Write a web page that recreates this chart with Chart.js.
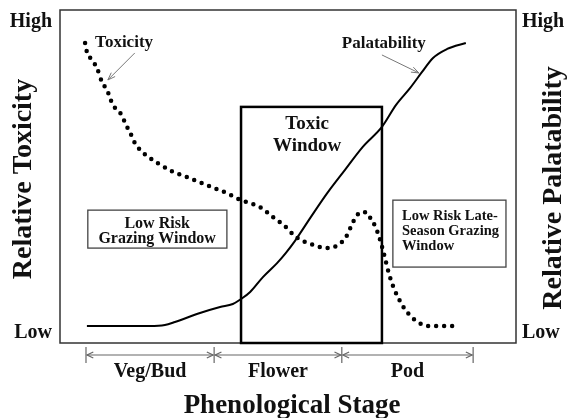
<!DOCTYPE html>
<html>
<head>
<meta charset="utf-8">
<title>Phenological Stage - Toxicity vs Palatability</title>
<script src="https://cdn.jsdelivr.net/npm/chart.js@4.4.1/dist/chart.umd.min.js"></script>
<style>
    html, body { margin: 0; padding: 0; background: #fff; }
    #chart { display: block; }
</style>
</head>
<body>
<canvas id="chart" width="568" height="418"></canvas>
<script>
// ============================================================
// DATA (x = position through the season 0-100, y = relative level 0-100)
// ============================================================
const palatabilityX = [5.9, 19.7, 23.0, 25.2, 30.7, 35.1, 37.9, 39.7, 41.7, 44.5, 47.6, 49.5, 51.5, 55.0, 58.6, 62.5, 66.4, 70.6, 73.7, 76.8, 79.4, 81.8, 84.9, 89.0];
const palatabilityY = [5.1, 5.1, 5.4, 6.3, 9.0, 10.8, 11.7, 13.2, 15.3, 19.8, 24.0, 27.0, 30.6, 37.8, 45.0, 52.0, 58.9, 64.9, 71.5, 76.6, 81.4, 85.6, 88.3, 90.1];

const toxicityX = [5.5, 5.9, 7.0, 8.1, 9.2, 10.3, 11.6, 13.2, 14.7, 15.6, 16.4, 18.0, 19.7, 21.3, 24.8, 27.9, 32.2, 36.6, 39.7, 43.9, 46.7, 49.1, 51.8, 56.4, 58.3, 60.1, 62.7, 64.5, 66.0, 67.1, 68.2, 69.3, 70.4, 71.1, 72.1, 73.2, 74.8, 76.1, 77.6, 79.2, 80.5, 87.7];
const toxicityY = [90.1, 87.4, 85.0, 82.6, 78.4, 76.0, 71.5, 69.1, 64.9, 62.5, 60.1, 57.4, 55.6, 54.1, 51.4, 49.8, 47.4, 45.0, 42.9, 40.8, 37.8, 35.4, 31.8, 29.1, 28.5, 28.8, 31.8, 36.9, 39.3, 39.3, 37.2, 34.5, 30.0, 26.4, 21.0, 16.5, 12.0, 9.3, 7.2, 5.7, 5.1, 5.1];

const stageNames = ['Veg/Bud', 'Flower', 'Pod'];
const stageBounds = [5.7, 33.8, 61.8, 90.6];
const levelTicks = [3, 96.5];
const levelLabels = ['Low', 'High'];

const stageCenters = stageNames.map(function (n, i) {
    return (stageBounds[i] + stageBounds[i + 1]) / 2;
});

function toPoints(xs, ys) {
    return xs.map(function (x, i) { return { x: x, y: ys[i] }; });
}

const SERIF = '"Liberation Serif", "Times New Roman", Times, serif';

// ============================================================
// DRAWING HELPERS
// ============================================================
function arrowHead(ctx, x1, y1, x2, y2, len, spread) {
    var a = Math.atan2(y2 - y1, x2 - x1);
    ctx.beginPath();
    ctx.moveTo(x2 - len * Math.cos(a - spread), y2 - len * Math.sin(a - spread));
    ctx.lineTo(x2, y2);
    ctx.lineTo(x2 - len * Math.cos(a + spread), y2 - len * Math.sin(a + spread));
    ctx.stroke();
}

function arrow(ctx, x1, y1, x2, y2) {
    ctx.beginPath();
    ctx.moveTo(x1, y1);
    ctx.lineTo(x2, y2);
    ctx.stroke();
    arrowHead(ctx, x1, y1, x2, y2, 8, 0.35);
}

function text(ctx, str, x, y, size, align) {
    ctx.font = 'bold ' + size + 'px ' + SERIF;
    ctx.textAlign = align || 'center';
    ctx.textBaseline = 'middle';
    ctx.fillText(str, x, y);
}

function rotatedText(ctx, str, x, y, size) {
    ctx.save();
    ctx.translate(x, y);
    ctx.rotate(-Math.PI / 2);
    text(ctx, str, 0, 0, size);
    ctx.restore();
}

// frame + toxic window box, under the curves
const framePlugin = {
    id: 'frame',
    beforeDatasetsDraw: function (chart) {
        var ctx = chart.ctx, a = chart.chartArea;
        var sx = chart.scales.x, sy = chart.scales.y;
        ctx.save();
        ctx.strokeStyle = '#333';
        ctx.lineWidth = 1.5;
        ctx.strokeRect(a.left, a.top, a.right - a.left, a.bottom - a.top);

        ctx.strokeStyle = '#000';
        ctx.lineWidth = 2.5;
        var l = sx.getPixelForValue(39.7), r = sx.getPixelForValue(70.6);
        var t = sy.getPixelForValue(70.9);
        ctx.strokeRect(l, t, r - l, a.bottom - t);
        ctx.restore();
    }
};

// labels, boxes, arrows, stage brackets and axis titles
const notesPlugin = {
    id: 'notes',
    afterDraw: function (chart) {
        var ctx = chart.ctx, a = chart.chartArea;
        var sx = chart.scales.x, sy = chart.scales.y;
        var X = function (v) { return sx.getPixelForValue(v); };
        var Y = function (v) { return sy.getPixelForValue(v); };
        ctx.save();
        ctx.fillStyle = '#111';

        // Toxic window caption
        text(ctx, 'Toxic', X(54.2), Y(65.8), 19);
        text(ctx, 'Window', X(54.2), Y(59.2), 19);

        // Low risk boxes
        ctx.strokeStyle = '#444';
        ctx.lineWidth = 1.3;
        ctx.strokeRect(X(6.1), Y(39.9), X(36.6) - X(6.1), Y(28.5) - Y(39.9));
        text(ctx, 'Low Risk', X(21.3), Y(35.9), 16);
        text(ctx, 'Grazing Window', X(21.3), Y(31.2), 16);

        ctx.strokeRect(X(73.0), Y(42.9), X(97.8) - X(73.0), Y(22.8) - Y(42.9));
        text(ctx, 'Low Risk Late-', X(75.0), Y(38.1), 14.5, 'left');
        text(ctx, 'Season Grazing', X(75.0), Y(33.6), 14.5, 'left');
        text(ctx, 'Window', X(75.0), Y(29.2), 14.5, 'left');

        // series labels with pointers
        text(ctx, 'Toxicity', X(7.7), Y(90.1), 17, 'left');
        text(ctx, 'Palatability', X(61.8), Y(89.8), 17, 'left');
        ctx.strokeStyle = '#777';
        ctx.lineWidth = 1;
        arrow(ctx, X(16.4), Y(87.1), X(10.5), Y(79.0));
        arrow(ctx, X(70.6), Y(86.5), X(78.7), Y(81.1));

        // stage brackets under the plot
        var by = a.bottom + 12;
        ctx.strokeStyle = '#666';
        ctx.lineWidth = 1.2;
        stageBounds.forEach(function (b) {
            ctx.beginPath();
            ctx.moveTo(X(b), by - 8);
            ctx.lineTo(X(b), by + 8);
            ctx.stroke();
        });
        for (var i = 0; i < stageNames.length; i++) {
            var x1 = X(stageBounds[i]) + 1, x2 = X(stageBounds[i + 1]) - 1;
            ctx.beginPath();
            ctx.moveTo(x1, by);
            ctx.lineTo(x2, by);
            ctx.stroke();
            arrowHead(ctx, x2 - 10, by, x2, by, 7, 0.45);
            arrowHead(ctx, x1 + 10, by, x1, by, 7, 0.45);
        }

        // axis titles
        ctx.fillStyle = '#111';
        rotatedText(ctx, 'Relative Toxicity', 24, 179, 28);
        rotatedText(ctx, 'Relative Palatability', 554, 188, 28);
        text(ctx, 'Phenological Stage', 292, 406, 27);
        ctx.restore();
    }
};

// ============================================================
// CHART
// ============================================================
const levelAxis = function (pos, width, pad) {
    return {
        type: 'linear',
        position: pos,
        min: 0,
        max: 100,
        grid: { display: false, drawTicks: false },
        border: { display: false },
        afterBuildTicks: function (s) {
            s.ticks = levelTicks.map(function (v) { return { value: v }; });
        },
        ticks: {
            padding: pad,
            color: '#111',
            font: { family: SERIF, size: 20, weight: 'bold' },
            callback: function (v, i) { return levelLabels[i]; }
        },
        afterFit: function (s) {
            s.width = width;
            s.paddingTop = 0;
            s.paddingBottom = 0;
        }
    };
};

new Chart(document.getElementById('chart'), {
    type: 'line',
    data: {
        datasets: [
            {
                label: 'Palatability',
                data: toPoints(palatabilityX, palatabilityY),
                borderColor: '#000',
                borderWidth: 2,
                pointRadius: 0,
                cubicInterpolationMode: 'monotone'
            },
            {
                label: 'Toxicity',
                data: toPoints(toxicityX, toxicityY),
                borderColor: '#000',
                borderWidth: 4.5,
                borderDash: [0, 8],
                borderCapStyle: 'round',
                pointRadius: 0,
                cubicInterpolationMode: 'monotone'
            }
        ]
    },
    options: {
        responsive: false,
        animation: false,
        layout: { padding: { top: 10, left: 0, right: 0, bottom: 0 } },
        plugins: {
            legend: { display: false },
            tooltip: { enabled: false }
        },
        scales: {
            x: {
                type: 'linear',
                min: 0,
                max: 100,
                grid: { display: false, drawTicks: false },
                border: { display: false },
                afterBuildTicks: function (s) {
                    s.ticks = stageCenters.map(function (v) { return { value: v }; });
                },
                ticks: {
                    padding: 17,
                    autoSkip: false,
                    maxRotation: 0,
                    color: '#111',
                    font: { family: SERIF, size: 20, weight: 'bold' },
                    callback: function (v, i) { return stageNames[i]; }
                },
                afterFit: function (s) {
                    s.height = 75;
                    s.paddingLeft = 0;
                    s.paddingRight = 0;
                }
            },
            y: levelAxis('left', 60, 8),
            y2: levelAxis('right', 52, 6)
        }
    },
    plugins: [framePlugin, notesPlugin]
});
</script>
</body>
</html>
